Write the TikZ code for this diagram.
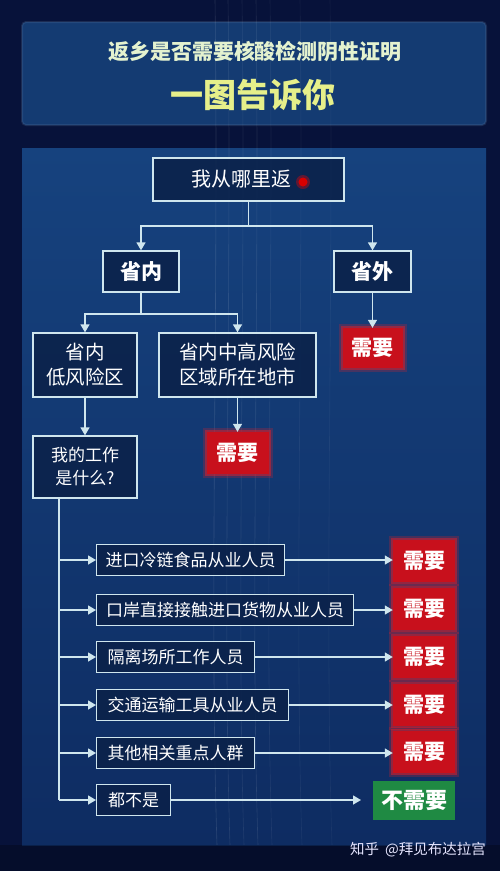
\documentclass[tikz,border=0pt]{standalone}
\usepackage{fontspec}
\setmainfont{Noto Sans CJK SC}
\usetikzlibrary{arrows.meta}
\definecolor{bg}{HTML}{07123A}
\definecolor{paneltop}{HTML}{16427E}
\definecolor{panelbot}{HTML}{0E2C62}
\definecolor{titlepanel}{HTML}{143B72}
\definecolor{boxline}{HTML}{CFE6EE}
\definecolor{boxfill}{HTML}{0B2148}
\definecolor{needred}{HTML}{C8101C}
\definecolor{glowred}{HTML}{E0202A}
\definecolor{okgreen}{HTML}{1F8A43}
\definecolor{titleone}{HTML}{E4F2CF}
\definecolor{titletwo}{HTML}{E6EF8A}
\tikzset{
  fbox/.style={draw=boxline, line width=1.3pt, fill=boxfill, fill opacity=0.85, text opacity=1,
    text=white, inner sep=0pt, align=center},
  rowbox/.style={fbox, anchor=west, minimum height=31, font=\fontsize{17}{17}\selectfont},
  needbox/.style={fill=needred, text=white, inner sep=0pt, minimum width=62, minimum height=42,
    font=\fontsize{21}{21}\selectfont\bfseries,
    preaction={draw=glowred, line width=8pt, draw opacity=0.25},
    preaction={draw=glowred, line width=4pt, draw opacity=0.5}},
  okbox/.style={fill=okgreen, text=white, inner sep=0pt, minimum width=82, minimum height=39,
    font=\fontsize{22}{22}\selectfont\bfseries},
  arr/.style={draw=boxline, line width=1.4pt, -{Triangle[width=9pt,length=8pt]}},
  ln/.style={draw=boxline, line width=1.4pt}
}
\begin{document}
\begin{tikzpicture}[x=1pt,y=-1pt]
\useasboundingbox (0,0) rectangle (500,871);
\fill[bg] (0,0) rectangle (500,871);
% title panel
\fill[titlepanel, rounded corners=4pt] (22,22) rectangle (486,125);
\draw[titlepanel!70!white, line width=2pt, opacity=0.25, rounded corners=4pt] (22,22) rectangle (486,125);
% main panel
\shade[top color=paneltop, bottom color=panelbot] (22,148) rectangle (486,845);
\fill[black, opacity=0.25] (0,845) rectangle (500,871);
% faint streaks
\foreach \xx/\op in {215/0.12,228/0.10,242/0.08,256/0.10,270/0.07,300/0.06,330/0.05}{
  \draw[white, opacity=\op, line width=0.6pt] (\xx,0) .. controls (\xx+4,300) and (\xx-6,600) .. (\xx+2,845);
}
% title text
\node[text=titleone, font=\fontsize{21}{21}\selectfont\bfseries] (t1) at (255,52) {返乡是否需要核酸检测阴性证明};
\node[text=titletwo, font=\fontsize{33}{33}\selectfont\bfseries] (t2) at (253,95) {一图告诉你};

% nodes
\node[fbox, minimum width=191, minimum height=43, font=\fontsize{20}{20}\selectfont] (top) at (248.5,179.5) {我从哪里返\hspace{14pt}};
\fill[red, opacity=0.35] (303,182) circle (7);
\fill[red!85!black] (303,182) circle (4.5);

\node[fbox, minimum width=76, minimum height=41, font=\fontsize{21}{21}\selectfont\bfseries] (sn) at (141,271.5) {省内};
\node[fbox, minimum width=77, minimum height=41, font=\fontsize{21}{21}\selectfont\bfseries] (sw) at (372.5,271.5) {省外};
\node[needbox, minimum width=60, minimum height=40] (need0) at (372.5,348) {需要};

\node[fbox, minimum width=104, minimum height=64, font=\fontsize{19.5}{25}\selectfont] (low) at (85,365) {省内\\低风险区};
\node[fbox, minimum width=157, minimum height=64, font=\fontsize{19.5}{25}\selectfont] (high) at (237.5,365) {省内中高风险\\区域所在地市};
\node[needbox] (need1) at (237.5,453) {需要};
\node[fbox, minimum width=104, minimum height=62, font=\fontsize{17}{23}\selectfont] (work) at (85,467) {我的工作\\是什么?};

\node[rowbox, minimum width=188] (r1) at (96,560) {进口冷链食品从业人员};
\node[rowbox, minimum width=257] (r2) at (96,610) {口岸直接接触进口货物从业人员};
\node[rowbox, minimum width=158] (r3) at (96,657) {隔离场所工作人员};
\node[rowbox, minimum width=192] (r4) at (96,705) {交通运输工具从业人员};
\node[rowbox, minimum width=158] (r5) at (96,753) {其他相关重点人群};
\node[rowbox, minimum width=74] (r6) at (96,800) {都不是};

\node[needbox] (n1) at (424,561) {需要};
\node[needbox] (n2) at (424,609) {需要};
\node[needbox] (n3) at (424,657) {需要};
\node[needbox] (n4) at (424,705) {需要};
\node[needbox] (n5) at (424,752) {需要};
\node[okbox] (ok) at (414,800.5) {不需要};

% connectors
\coordinate (j1) at (248.5,226);
\draw[ln] (top.south) -- (j1);
\draw[arr] (j1) -| (sn.north);
\draw[arr] (j1) -| (sw.north);
\draw[arr] (sw.south) -- (need0.north);

\coordinate (j2) at (141,314);
\draw[ln] (sn.south) -- (j2);
\draw[arr] (j2) -| (low.north);
\draw[arr] (j2) -| (high.north);
\draw[arr] (high.south) -- (need1.north);
\draw[arr] (low.south) -- (work.north);

\coordinate (tr) at (59,498);
\draw[ln] (tr) -- (r6.west -| tr);
\foreach \r in {r1,r2,r3,r4,r5,r6}{
  \draw[arr] (\r.west -| tr) -- (\r.west);
}
\draw[arr] (r1.east) -- (r1.east -| n1.west);
\draw[arr] (r2.east) -- (r2.east -| n2.west);
\draw[arr] (r3.east) -- (r3.east -| n3.west);
\draw[arr] (r4.east) -- (r4.east -| n4.west);
\draw[arr] (r5.east) -- (r5.east -| n5.west);
\coordinate (okin) at (361,800);
\draw[arr] (r6.east) -- (r6.east -| okin);

% watermark
\node[text=white!90!blue, font=\fontsize{14.5}{15}\selectfont] (wm) at (418,850) {知乎\hspace{6pt}@拜见布达拉宫};
\end{tikzpicture}
\end{document}
